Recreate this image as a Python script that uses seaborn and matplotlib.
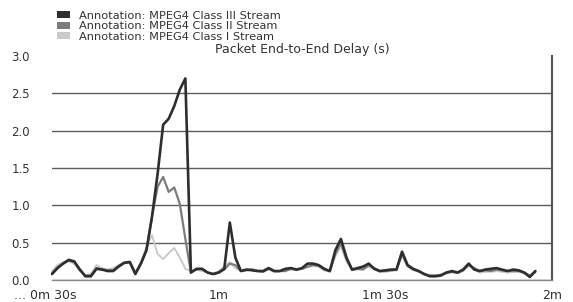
"""Packet end-to-end delay of three MPEG4 annotation streams"""
import matplotlib
matplotlib.use('Agg')
import matplotlib.pyplot as plt
from matplotlib.patches import Patch
from matplotlib.transforms import ScaledTranslation
import seaborn as sns
import pandas as pd

# Simulation time in seconds, one sample per second
times = list(range(30, 118))

class3 = [0.08, 0.16, 0.22, 0.27, 0.25, 0.14, 0.05, 0.05, 0.15, 0.14,
          0.12, 0.12, 0.18, 0.23, 0.24, 0.08, 0.22, 0.40, 0.85, 1.42,
          2.08, 2.16, 2.33, 2.55, 2.70, 0.10, 0.15, 0.15, 0.10, 0.08,
          0.10, 0.15, 0.77, 0.30, 0.12, 0.14, 0.13, 0.12, 0.12, 0.16,
          0.12, 0.12, 0.15, 0.16, 0.14, 0.16, 0.22, 0.22, 0.20, 0.15,
          0.12, 0.40, 0.55, 0.30, 0.14, 0.16, 0.18, 0.22, 0.15, 0.12,
          0.13, 0.14, 0.14, 0.38, 0.20, 0.15, 0.12, 0.08, 0.05, 0.05,
          0.06, 0.10, 0.12, 0.10, 0.14, 0.22, 0.14, 0.12, 0.14, 0.15,
          0.16, 0.14, 0.12, 0.14, 0.13, 0.10, 0.04, 0.12]

class2 = [0.09, 0.17, 0.22, 0.26, 0.24, 0.14, 0.06, 0.06, 0.16, 0.14,
          0.13, 0.13, 0.19, 0.23, 0.24, 0.09, 0.22, 0.40, 0.85, 1.25,
          1.38, 1.18, 1.24, 1.02, 0.55, 0.10, 0.14, 0.15, 0.10, 0.08,
          0.10, 0.14, 0.22, 0.20, 0.12, 0.13, 0.14, 0.12, 0.11, 0.15,
          0.12, 0.12, 0.12, 0.15, 0.14, 0.15, 0.18, 0.20, 0.19, 0.14,
          0.12, 0.35, 0.50, 0.28, 0.14, 0.15, 0.14, 0.20, 0.16, 0.12,
          0.12, 0.13, 0.14, 0.35, 0.19, 0.14, 0.12, 0.08, 0.06, 0.06,
          0.07, 0.10, 0.11, 0.10, 0.13, 0.20, 0.16, 0.12, 0.13, 0.12,
          0.14, 0.13, 0.12, 0.12, 0.12, 0.10, 0.06, 0.11]

class1 = [0.12, 0.20, 0.24, 0.25, 0.22, 0.12, 0.06, 0.08, 0.20, 0.16,
          0.14, 0.16, 0.20, 0.24, 0.25, 0.10, 0.24, 0.45, 0.60, 0.35,
          0.28, 0.36, 0.43, 0.30, 0.15, 0.12, 0.14, 0.12, 0.10, 0.08,
          0.12, 0.18, 0.24, 0.16, 0.12, 0.14, 0.15, 0.13, 0.12, 0.14,
          0.11, 0.12, 0.13, 0.14, 0.13, 0.15, 0.17, 0.19, 0.18, 0.13,
          0.11, 0.32, 0.45, 0.25, 0.13, 0.14, 0.15, 0.18, 0.14, 0.11,
          0.11, 0.12, 0.13, 0.32, 0.18, 0.13, 0.11, 0.07, 0.06, 0.06,
          0.07, 0.09, 0.10, 0.09, 0.12, 0.20, 0.14, 0.10, 0.11, 0.11,
          0.12, 0.11, 0.10, 0.11, 0.11, 0.09, 0.06, 0.10]

stream_names = ['Annotation: MPEG4 Class III Stream',
                'Annotation: MPEG4 Class II Stream',
                'Annotation: MPEG4 Class I Stream']
stream_colors = ['#2e2e2e', '#7c7c7c', '#cacaca']
stream_widths = [1.9, 1.6, 1.4]

x_ticks = [30, 60, 90, 120]
x_tick_labels = ['... 0m 30s', '1m', '1m 30s', '2m']
y_ticks = [0.0, 0.5, 1.0, 1.5, 2.0, 2.5, 3.0]

# Long-format table for seaborn
frames = []
for name, values in zip(stream_names, [class3, class2, class1]):
    frames.append(pd.DataFrame({'time': times, 'delay': values, 'stream': name}))
df = pd.concat(frames, ignore_index=True)

sns.set_style('white')
plt.rcParams['font.family'] = ['DejaVu Sans']

fig = plt.figure(figsize=(5.73, 3.02), dpi=100)
ax = fig.add_axes([0.0908, 0.0728, 0.8726, 0.7417])

# Draw light stream first so the darker ones sit on top
draw_order = stream_names[::-1]
sns.lineplot(data=df, x='time', y='delay', hue='stream', hue_order=draw_order,
             palette=dict(zip(stream_names, stream_colors)), ax=ax, legend=False)
for line, name in zip(ax.lines, draw_order):
    line.set_linewidth(stream_widths[stream_names.index(name)])
    line.set_clip_on(False)

ax.set_xlim(30, 120)
ax.set_ylim(0, 3.0)
ax.set_xlabel('')
ax.set_ylabel('')

ax.set_yticks(y_ticks)
ax.set_yticklabels([f'{v:.1f}' for v in y_ticks])
ax.set_xticks(x_ticks)
ax.set_xticklabels(x_tick_labels)
ax.set_xticks([45, 75, 105], minor=True)

ax.yaxis.grid(True, color='#5c5c5c', linewidth=1.0)
ax.get_ygridlines()[-1].set_visible(False)
ax.set_axisbelow(True)

ax.tick_params(axis='y', length=0, pad=16, labelsize=8.5, labelcolor='#333333')
ax.tick_params(axis='x', which='major', direction='out', length=5, width=1,
               color='#666666', labelsize=9, labelcolor='#333333', pad=1.5)
ax.tick_params(axis='x', which='minor', direction='out', length=3, width=1,
               color='#777777')

# Nudge the first label a little left, as in the original
first_label = ax.get_xticklabels()[0]
first_label.set_transform(first_label.get_transform()
                          + ScaledTranslation(-5 / 72, 0, fig.dpi_scale_trans))

for side in ['left', 'top']:
    ax.spines[side].set_visible(False)
ax.spines['right'].set_color('#555555')
ax.spines['right'].set_linewidth(1.5)
ax.spines['bottom'].set_color('#8a8a8a')
ax.spines['bottom'].set_linewidth(1.0)

ax.set_title('Packet End-to-End Delay (s)', fontsize=9, color='#333333', pad=2)

handles = [Patch(facecolor=c, edgecolor='none', label=n)
           for n, c in zip(stream_names, stream_colors)]
fig.legend(handles=handles, loc='upper left', bbox_to_anchor=(0.1, 0.965),
           frameon=False, fontsize=8.2, handlelength=1.1, handleheight=0.6,
           handletextpad=0.8, labelspacing=0.05, borderpad=0, borderaxespad=0,
           labelcolor='#333333')

fig.savefig('out.png', dpi=100)
